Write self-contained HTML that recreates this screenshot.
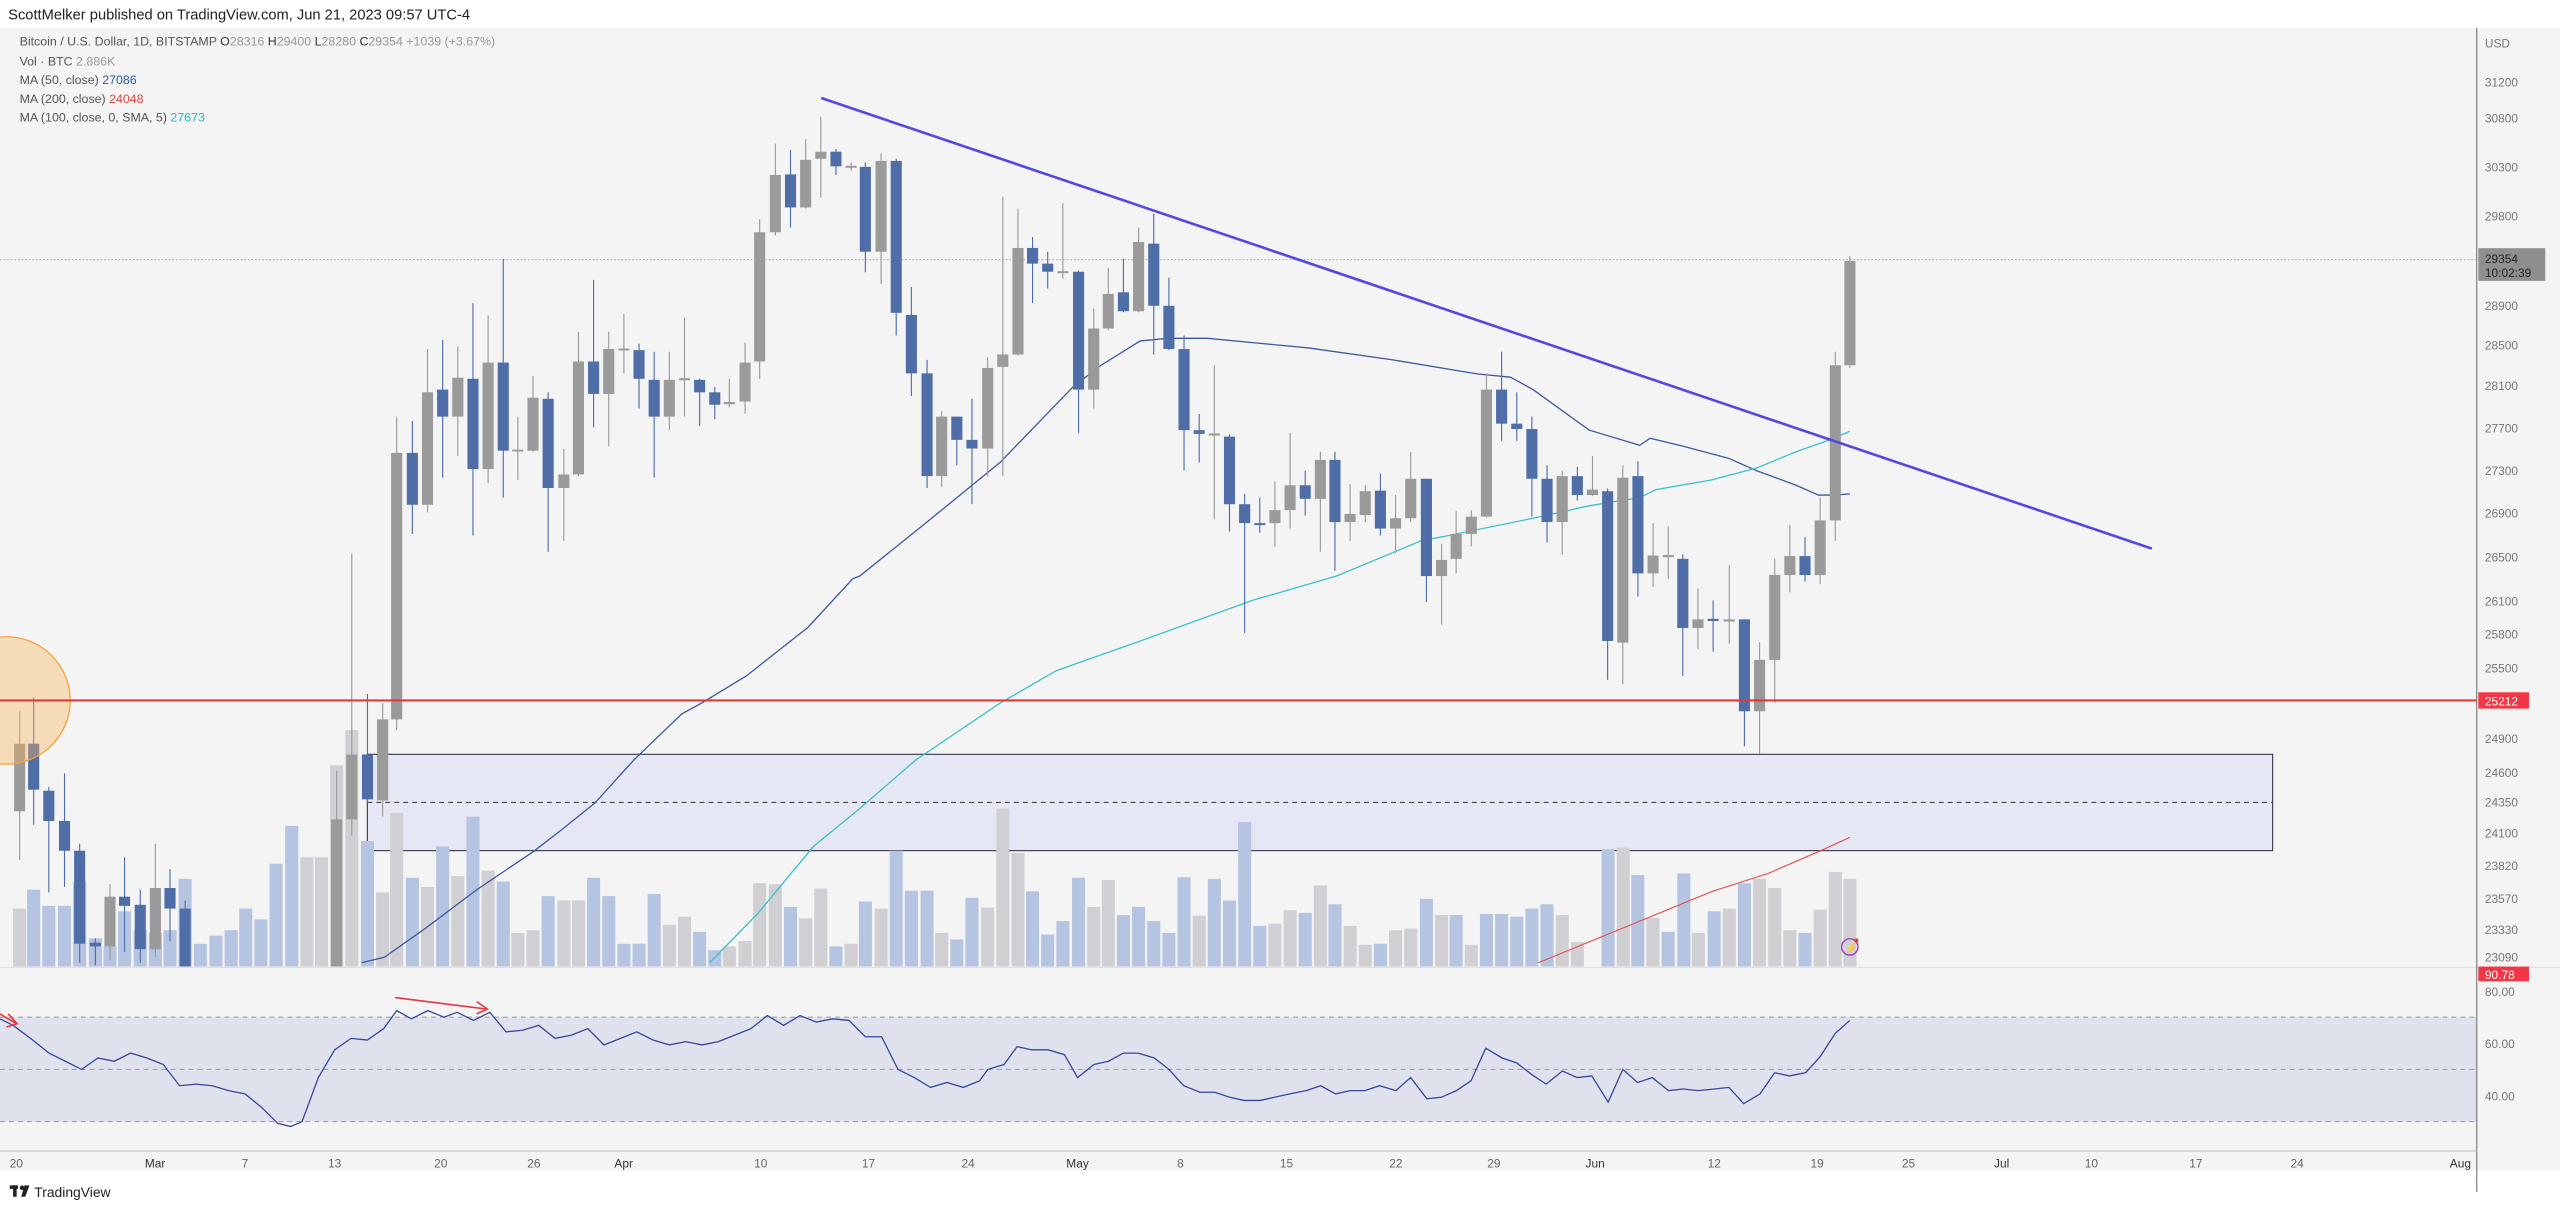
<!DOCTYPE html>
<html><head><meta charset="utf-8"><style>
html,body{margin:0;padding:0;background:#fff;}
svg{display:block;font-family:"Liberation Sans",sans-serif;}
</style></head><body>
<svg id="c" width="2560" height="1211" viewBox="0 0 1568 741.7" xmlns="http://www.w3.org/2000/svg">
<rect x="0" y="0" width="1568" height="742" fill="#ffffff"/>
<rect x="0" y="17" width="1568" height="700" fill="#f4f4f4"/>
<text x="5" y="12" font-size="9" fill="#222">ScottMelker published on TradingView.com, Jun 21, 2023 09:57 UTC-4</text>
<g font-size="7.6" fill="#555">
<text x="12" y="28">Bitcoin / U.S. Dollar, 1D, BITSTAMP  <tspan fill="#333">O</tspan><tspan fill="#999">28316</tspan>  <tspan fill="#333">H</tspan><tspan fill="#999">29400</tspan>  <tspan fill="#333">L</tspan><tspan fill="#999">28280</tspan>  <tspan fill="#333">C</tspan><tspan fill="#999">29354  +1039 (+3.67%)</tspan></text>
<text x="12" y="40">Vol · BTC  <tspan fill="#999">2.886K</tspan></text>
<text x="12" y="51.5">MA (50, close)  <tspan fill="#2f5aa8">27086</tspan></text>
<text x="12" y="63">MA (200, close)  <tspan fill="#e04545">24048</tspan></text>
<text x="12" y="74.5">MA (100, close, 0, SMA, 5)  <tspan fill="#2bb8c4">27673</tspan></text>
</g>
<defs><clipPath id="pp"><rect x="0" y="17" width="1517" height="575"/></clipPath>
<clipPath id="rp"><rect x="0" y="593" width="1517" height="112"/></clipPath></defs>
<rect x="225" y="462" width="1167" height="59" fill="#e6e7f4" stroke="#3a3a4a" stroke-width="0.7"/>
<line x1="225" y1="491.5" x2="1392" y2="491.5" stroke="#444" stroke-width="0.7" stroke-dasharray="3,2.5"/>
<line x1="0" y1="159" x2="1517" y2="159" stroke="#aaa" stroke-width="0.6" stroke-dasharray="1,1.2"/>
<g id="vol" clip-path="url(#pp)"></g>
<g id="ma" clip-path="url(#pp)" fill="none"></g>
<g id="cand" clip-path="url(#pp)"></g>
<circle cx="4" cy="429" r="39" fill="rgba(250,180,90,0.38)" stroke="#f2a33a" stroke-width="0.8" clip-path="url(#pp)"/>
<line x1="0" y1="429" x2="1517" y2="429" stroke="#e53935" stroke-width="1.3"/>
<line x1="503" y1="60" x2="1318" y2="336" stroke="#5548e0" stroke-width="1.6"/>
<circle cx="1133" cy="580" r="5" fill="none" stroke="#9c3fc0" stroke-width="0.9"/>
<text x="1130.5" y="582.5" font-size="6" fill="#9c3fc0">⚡</text>
<circle cx="1137" cy="576" r="1.3" fill="#e53935"/>
<line x1="0" y1="592.5" x2="1568" y2="592.5" stroke="#ddd" stroke-width="0.6"/>
<rect x="0" y="623" width="1517" height="64" fill="#dfe2ed"/>
<g stroke="#999" stroke-width="0.6" stroke-dasharray="3,2.5">
<line x1="0" y1="623" x2="1517" y2="623"/><line x1="0" y1="655" x2="1517" y2="655"/><line x1="0" y1="687" x2="1517" y2="687"/></g>
<polyline id="rsi" fill="none" stroke="#34489a" stroke-width="0.8" clip-path="url(#rp)" points=""/>
<g stroke="#e53945" stroke-width="1" fill="none">
<line x1="242" y1="611" x2="298" y2="618"/><polyline points="292,613.5 298.5,618 292,621"/>
<line x1="0" y1="621" x2="10" y2="627"/><polyline points="5,621 10.5,627 4,629"/></g>
<line x1="1517" y1="17" x2="1517" y2="730" stroke="#777" stroke-width="0.7"/>
<line x1="0" y1="705" x2="1517" y2="705" stroke="#bbb" stroke-width="0.6"/>
<g font-size="7.3" fill="#777">
<text x="1522" y="29">USD</text>
<text x="1522" y="53">31200</text><text x="1522" y="75">30800</text><text x="1522" y="105">30300</text>
<text x="1522" y="135">29800</text><text x="1522" y="190">28900</text><text x="1522" y="214">28500</text>
<text x="1522" y="239">28100</text><text x="1522" y="265">27700</text><text x="1522" y="291">27300</text>
<text x="1522" y="317">26900</text><text x="1522" y="344">26500</text><text x="1522" y="371">26100</text>
<text x="1522" y="391">25800</text><text x="1522" y="412">25500</text><text x="1522" y="455">24900</text>
<text x="1522" y="476">24600</text><text x="1522" y="494">24350</text><text x="1522" y="513">24100</text>
<text x="1522" y="533">23820</text><text x="1522" y="553">23570</text><text x="1522" y="572">23330</text>
<text x="1522" y="589">23090</text>
<text x="1522" y="610">80.00</text><text x="1522" y="642">60.00</text><text x="1522" y="674">40.00</text>
</g>
<rect x="1518" y="152" width="41" height="20" fill="#8f8f8f"/>
<text x="1522" y="161" font-size="7.3" fill="#222">29354</text>
<text x="1522" y="169.5" font-size="7.3" fill="#222">10:02:39</text>
<rect x="1518" y="424" width="31" height="10" fill="#f23645"/>
<text x="1522" y="432" font-size="7.3" fill="#fff">25212</text>
<rect x="1518" y="592" width="31" height="9" fill="#f23645"/>
<text x="1522" y="599.5" font-size="7.3" fill="#fff">90.78</text>
<g font-size="7.3" fill="#666" text-anchor="middle">
<text x="10" y="715">20</text><text x="95" y="715" fill="#333">Mar</text><text x="150" y="715">7</text>
<text x="205" y="715">13</text><text x="270" y="715">20</text><text x="327" y="715">26</text>
<text x="382" y="715" fill="#333">Apr</text><text x="466" y="715">10</text><text x="532" y="715">17</text>
<text x="593" y="715">24</text><text x="660" y="715" fill="#333">May</text><text x="723" y="715">8</text>
<text x="788" y="715">15</text><text x="855" y="715">22</text><text x="915" y="715">29</text>
<text x="977" y="715" fill="#333">Jun</text><text x="1050" y="715">12</text><text x="1113" y="715">19</text>
<text x="1169" y="715">25</text><text x="1226" y="715" fill="#333">Jul</text><text x="1281" y="715">10</text>
<text x="1345" y="715">17</text><text x="1407" y="715">24</text><text x="1507" y="715" fill="#333">Aug</text>
</g>
<g fill="#222"><rect x="6" y="726" width="5" height="2.2"/><rect x="8" y="726" width="2.2" height="7"/><circle cx="13.5" cy="727.5" r="1.4"/><polygon points="15,726 18,726 15.5,733 13,733"/></g>
<text x="21" y="733" font-size="8.5" fill="#222">TradingView</text>
</svg>
<script>
var NS="http://www.w3.org/2000/svg";
var off=[0,526.6,979.8];
function X(z,zx){return off[z]+zx/2.91;}
function Y(zy){return 74.7+zy/3.02;}
function el(p,t,a){var e=document.createElementNS(NS,t);for(var k in a)e.setAttribute(k,a[k]);p.appendChild(e);return e;}
var C=[
[0,35,1150,1275,1090,1365,'g'],[0,60,1150,1235,1065,1300,'b'],[0,87,1237,1293,1230,1425,'b'],[0,115,1293,1348,1205,1415,'b'],
[0,142,1348,1520,1335,1555,'b'],[0,170,1518,1525,1510,1560,'b'],[0,196,1433,1525,1410,1550,'g'],[0,222,1433,1450,1360,1535,'b'],
[0,250,1448,1530,1420,1555,'b'],[0,277,1417,1530,1335,1545,'g'],[0,303,1417,1455,1382,1515,'b'],[0,330,1455,1600,1440,1600,'b'],
[0,600,1290,1600,1200,1600,'g'],[0,627,1170,1290,798,1320,'g'],[0,655,1170,1253,1058,1260,'b'],[0,682,1105,1255,1075,1285,'g'],
[0,707,612,1105,545,1125,'g'],[0,735,612,708,553,762,'b'],[0,762,500,708,420,722,'g'],[0,789,495,545,403,658,'b'],
[0,816,473,545,415,618,'g'],[0,843,475,642,335,765,'b'],[0,870,445,642,358,668,'g'],[0,897,445,608,253,695,'b'],
[0,923,606,609,545,662,'g'],[0,950,510,608,470,610,'g'],[0,977,512,677,500,795,'b'],[0,1005,652,677,605,775,'g'],
[0,1031,443,652,388,655,'g'],[0,1058,443,503,292,565,'b'],[0,1085,420,503,388,600,'g'],[0,1112,419,422,355,465,'g'],
[0,1139,422,475,410,530,'b'],[0,1166,477,545,425,658,'b'],[0,1193,477,545,425,570,'g'],[0,1220,474,477,362,545,'g'],
[0,1247,477,500,475,562,'b'],[0,1274,500,523,490,550,'b'],[0,1300,518,522,475,528,'g'],[0,1328,445,517,408,540,'g'],
[0,1354,204,443,180,475,'g'],[0,1382,98,204,40,210,'g'],[0,1409,97,158,52,195,'b'],[0,1436,70,158,32,160,'g'],
[0,1463,55,68,-10,140,'g'],[0,1490,55,82,50,98,'b'],[0,1517,81,84,75,90,'g'],
[1,10,83,240,75,278,'b'],[1,38,72,240,58,300,'g'],[1,65,72,353,68,395,'b'],[1,92,357,465,305,507,'b'],
[1,120,465,655,440,677,'b'],[1,146,545,655,535,675,'g'],[1,173,545,588,545,635,'b'],[1,200,588,604,512,707,'b'],
[1,228,455,604,435,655,'g'],[1,255,430,453,138,655,'g'],[1,282,233,430,160,432,'g'],[1,308,233,262,213,335,'b'],
[1,335,262,277,240,308,'b'],[1,362,276,279,150,290,'g'],[1,390,277,495,275,575,'b'],[1,417,382,495,345,530,'g'],
[1,443,318,382,270,385,'g'],[1,470,315,350,253,352,'b'],[1,497,222,350,195,352,'g'],[1,524,225,340,170,430,'b'],
[1,551,340,420,288,422,'b'],[1,578,420,570,395,645,'b'],[1,605,570,577,540,630,'b'],[1,632,576,580,450,735,'g'],
[1,659,582,707,578,758,'b'],[1,686,707,742,688,945,'b'],[1,713,742,745,695,760,'b'],[1,740,718,742,665,785,'g'],
[1,767,672,718,575,752,'g'],[1,794,672,697,645,728,'b'],[1,821,625,697,610,795,'g'],[1,847,625,740,610,830,'b'],
[1,874,725,740,670,775,'g'],[1,901,683,727,672,740,'g'],[1,928,682,752,650,765,'b'],[1,955,733,752,690,798,'g'],
[1,982,660,733,610,740,'g'],[1,1010,660,840,660,888,'b'],[1,1037,810,840,780,930,'g'],[1,1063,762,808,720,835,'g'],
[1,1090,730,762,718,785,'g'],[1,1117,495,730,465,732,'g'],[1,1144,495,558,425,590,'b'],[1,1171,558,568,500,590,'b'],
[1,1198,568,660,545,730,'b'],[1,1225,660,740,635,778,'b'],[1,1252,655,740,645,800,'g'],[1,1279,655,690,638,700,'b'],
[1,1306,680,690,618,692,'g'],[1,1333,683,960,678,1032,'b'],[1,1360,658,963,635,1040,'g'],[1,1387,655,835,628,878,'b'],
[1,1414,802,835,742,860,'g'],[1,1441,801,805,748,845,'g'],[1,1467,808,936,800,1025,'b'],[1,1494,920,936,863,975,'g'],
[1,1521,919,923,885,980,'b'],
[2,231,920,924,820,965,'g'],[2,258,920,1090,920,1155,'b'],[2,285,995,1090,962,1168,'g'],[2,312,838,995,808,1075,'g'],
[2,339,803,838,745,870,'g'],[2,366,803,838,768,850,'b'],[2,393,737,838,695,855,'g'],[2,420,450,737,425,775,'g'],
[2,446,257,450,248,455,'g']];
var V=[
[0,[[35,1455,'g'],[60,1420,'b'],[87,1450,'b'],[115,1450,'b'],[142,1405,'b'],[170,1510,'b'],[196,1525,'b'],[222,1460,'b'],[250,1495,'b'],[277,1500,'b'],[303,1495,'b'],[330,1400,'b'],[357,1520,'b'],[385,1505,'b'],[412,1495,'b'],[438,1455,'b'],[465,1475,'b'],[492,1372,'b'],[520,1302,'b'],[547,1360,'g'],[573,1360,'g'],[600,1190,'g'],[627,1125,'g'],[655,1330,'b'],[682,1425,'g'],[707,1278,'g'],[735,1398,'b'],[762,1415,'g'],[789,1340,'b'],[816,1395,'g'],[843,1285,'b'],[870,1385,'g'],[897,1405,'b'],[923,1500,'g'],[950,1495,'g'],[977,1432,'b'],[1005,1440,'g'],[1031,1440,'g'],[1058,1398,'b'],[1085,1432,'b'],[1112,1520,'b'],[1139,1520,'b'],[1166,1428,'b'],[1193,1485,'g'],[1220,1470,'g'],[1247,1498,'b'],[1274,1532,'b'],[1300,1525,'g'],[1328,1515,'g'],[1354,1408,'g'],[1382,1410,'g'],[1409,1452,'b'],[1436,1473,'g'],[1463,1418,'g'],[1490,1525,'b'],[1517,1520,'g']]],
[1,[[10,1442,'b'],[38,1455,'g'],[65,1348,'b'],[92,1422,'b'],[120,1422,'b'],[146,1500,'g'],[173,1512,'b'],[200,1435,'b'],[228,1453,'g'],[255,1270,'g'],[282,1352,'g'],[308,1423,'b'],[335,1503,'b'],[362,1478,'b'],[390,1398,'b'],[417,1452,'g'],[443,1402,'g'],[470,1467,'b'],[497,1452,'b'],[524,1478,'b'],[551,1500,'b'],[578,1397,'b'],[605,1468,'g'],[632,1400,'b'],[659,1440,'b'],[686,1295,'b'],[713,1487,'b'],[740,1483,'g'],[767,1458,'g'],[794,1463,'b'],[821,1412,'g'],[847,1447,'b'],[874,1487,'g'],[901,1522,'g'],[928,1520,'b'],[955,1495,'g'],[982,1492,'g'],[1010,1437,'b'],[1037,1467,'g'],[1063,1467,'b'],[1090,1522,'g'],[1117,1465,'b'],[1144,1465,'b'],[1171,1470,'b'],[1198,1455,'b'],[1225,1447,'b'],[1252,1467,'g'],[1279,1517,'g']]],
[2,[[15,1345,'b'],[42,1342,'g'],[68,1393,'b'],[95,1472,'g'],[122,1498,'b'],[150,1390,'b'],[176,1500,'g'],[204,1460,'b'],[231,1455,'g'],[258,1408,'b'],[285,1400,'g'],[312,1417,'g'],[339,1495,'g'],[366,1500,'b'],[393,1457,'g'],[420,1387,'g'],[446,1400,'g']]]];
var vg=document.getElementById('vol');
V.forEach(function(s){s[1].forEach(function(b){var x=X(s[0],b[0]),y=Y(b[1]);el(vg,'rect',{x:x-4,y:y,width:8,height:Math.max(0,592-y),fill:b[2]=='g'?'#d0d0d4':'#b5c4e0'});});});
var cg=document.getElementById('cand');
C.forEach(function(c){var x=X(c[0],c[1]);var col=c[6]=='g'?'#9a9a9a':'#4f6ea8';
el(cg,'line',{x1:x,y1:Y(c[4]),x2:x,y2:Y(c[5]),stroke:col,'stroke-width':0.7});
var t=Y(c[2]),b=Y(c[3]);if(b-t<1.2){b=t+1.2;}
el(cg,'rect',{x:x-3.4,y:t,width:6.8,height:b-t,fill:col});});
function pl(segs,col,w){var pts=[],lx=-1e9;segs.forEach(function(s){s[1].forEach(function(p){var x=X(s[0],p[0]);if(x<=lx+0.5)return;lx=x;pts.push(x.toFixed(1)+','+Y(p[1]).toFixed(1));});});
el(document.getElementById('ma'),'polyline',{points:pts.join(' '),stroke:col,'stroke-width':w,fill:'none'});}
pl([[0,[[645,1555],[685,1545],[760,1490],[850,1420],[950,1350],[1000,1310],[1060,1260],[1130,1180],[1215,1095],[1250,1075],[1330,1025],[1440,935],[1520,845]]],[1,[[0,840],[120,740],[250,630],[380,490],[430,450],[500,405],[550,400],[620,400],[800,418],[950,440],[1100,466],[1160,472],[1200,495],[1300,570],[1390,598]]],[2,[[50,568],[90,585],[150,600],[230,622],[280,645],[350,672],[390,690],[420,690],[446,688]]]],'#3c5a9c',0.8);
pl([[0,[[1265,1555],[1350,1465],[1450,1340]]],[1,[[0,1270],[100,1180],[250,1075],[350,1015],[500,960],[700,885],[850,840],[1000,775],[1050,765],[1200,733],[1300,710],[1390,695]]],[2,[[0,705],[100,680],[200,662],[280,640],[350,610],[410,588],[446,572]]]],'#3cc0cc',0.8);
pl([[1,[[1210,1555],[1520,1423]]],[2,[[100,1460],[200,1420],[300,1390],[400,1345],[446,1323]]]],'#e05050',0.7);
document.getElementById('rsi').setAttribute('points',"0,624 8,628 20,637 30,645 40,650 50,655 60,648 70,650 80,645 90,648 100,652 110,665 120,664 130,665 140,668 150,670 160,678 170,688 178,690 185,687 195,660 205,643 215,636 225,637 235,630 243,619 252,624 262,619 272,623 280,620 290,625 300,620 310,632 320,631 330,628 340,636 350,634 360,630 370,640 380,636 390,632 400,637 410,640 420,638 430,640 440,638 450,634 460,630 470,622 480,628 490,622 500,626 510,624 520,625 530,635 540,635 550,655 560,660 570,666 580,663 590,666 600,662 605,655 615,652 623,641 632,643 642,643 652,646 660,660 670,652 679,650 688,645 697,645 707,648 716,655 725,665 735,669 744,669 753,672 762,674 772,674 781,672 790,670 800,668 809,665 818,670 827,668 836,668 845,665 855,668 864,660 874,673 883,672 892,668 901,662 910,642 920,648 929,651 938,658 947,664 957,656 966,660 975,659 985,675 994,655 1003,663 1012,660 1022,668 1031,667 1040,668 1050,667 1059,666 1068,676 1078,670 1087,657 1096,659 1106,657 1115,647 1124,633 1133,625");
</script>
</body></html>
